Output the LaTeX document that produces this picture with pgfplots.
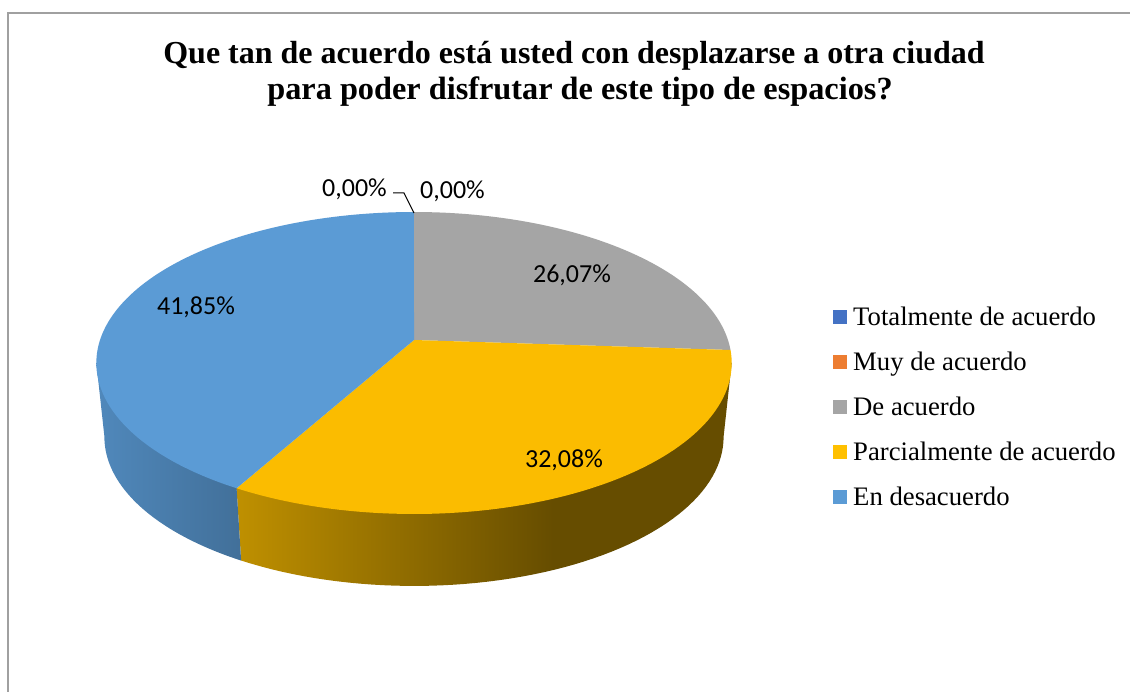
\documentclass[border=0pt]{standalone}
\usepackage{fontspec}
\setmainfont{Liberation Serif}
\newfontfamily\calibri{Carlito}
\usepackage{pgfplots}
\pgfplotsset{compat=1.18}
\definecolor{cTot}{HTML}{4472C4}
\definecolor{cMuy}{HTML}{ED7D31}
\definecolor{cDe}{HTML}{A5A5A5}
\definecolor{cPar}{HTML}{FFC000}
\definecolor{cParTop}{HTML}{FBBC00}
\definecolor{cEn}{HTML}{5B9BD5}
\definecolor{frameGray}{HTML}{A0A0A0}
% side walls, stops placed for the bbox of each wall
\pgfdeclarehorizontalshading{parside}{100bp}{color(0bp)=(cPar!75!black);color(25bp)=(cPar!75!black);color(57bp)=(cPar!40!black);color(100bp)=(cPar!40!black)}
\pgfdeclarehorizontalshading{enside}{100bp}{color(0bp)=(cEn!88!black);color(25bp)=(cEn!88!black);color(75bp)=(cEn!72!black);color(100bp)=(cEn!72!black)}
% percentages of the pie
\def\vDe{26.07}
\def\vPar{32.08}
\def\vEn{41.85}
\pgfmathsetmacro{\cA}{\vDe}
\pgfmathsetmacro{\cB}{\vDe+\vPar}
\pgfmathsetmacro{\cC}{\vDe+\vPar+\vEn}
\begin{document}
\begin{tikzpicture}[declare function={
  topx(\p)=414+314*sin(3.6*\p)/(1+.1523*cos(3.6*\p));
  topy(\p)=340-147.5*cos(3.6*\p)/(1+.1523*cos(3.6*\p));
  botx(\p)=414+306*sin(3.6*\p)/(1+.1523*cos(3.6*\p));
  boty(\p)=414.3-145.5*cos(3.6*\p)/(1+.1523*cos(3.6*\p));
}]
\begin{axis}[
  width=1130pt, height=692pt, scale only axis,
  xmin=0, xmax=1130, ymin=0, ymax=692, y dir=reverse,
  hide axis, clip=true,
  legend style={at={(axis cs:833,305)}, anchor=north west, draw=none, fill=none,
    font=\fontsize{26.7}{30}\selectfont, row sep=20.9pt, inner sep=0pt,
    /tikz/every odd column/.append style={column sep=4pt}},
  legend cell align=left,
  legend image code/.code={\path[#1,draw=none] (0pt,-7pt) rectangle (14pt,7pt);},
  every axis plot/.append style={forget plot},
]
% page and chart frame
\addplot[draw=none, fill=white] coordinates {(0,0) (1130,0) (1130,692) (0,692)} --cycle;
\addplot[frameGray, line width=1.3pt] coordinates {(8,692) (8,13) (1130,13)};

% side walls
\addplot[draw=none, shading=parside, domain=27.4:\cB, samples=60, variable=\p]
  ({botx(\p)},{boty(\p)}) -- (axis cs:{topx(\cB)},{topy(\cB)}) -- (axis cs:{topx(27.4)},{topy(27.4)}) -- cycle;
\addplot[draw=none, shading=enside, domain=\cB:72.6, samples=40, variable=\p]
  ({botx(\p)},{boty(\p)}) -- (axis cs:{topx(72.6)},{topy(72.6)}) -- (axis cs:{topx(\cB)},{topy(\cB)}) -- cycle;

% top faces
\addplot[draw=none, fill=cDe, domain=0:\cA, samples=60, variable=\p]
  ({topx(\p)},{topy(\p)}) -- (axis cs:414,340) -- cycle;
\addplot[draw=none, fill=cParTop, domain=\cA:\cB, samples=80, variable=\p]
  ({topx(\p)},{topy(\p)}) -- (axis cs:414,340) -- cycle;
\addplot[draw=none, fill=cEn, domain=\cB:\cC, samples=90, variable=\p]
  ({topx(\p)},{topy(\p)}) -- (axis cs:414,340) -- cycle;

% leader of the zero label
\addplot[black, line width=1pt] coordinates {(393,193) (404,193) (414,213)};

% data labels
\addplot[draw=none, mark=none, point meta=explicit symbolic,
  nodes near coords, every node near coord/.style={anchor=center, inner sep=0pt, text=black,
    font=\calibri\fontsize{26}{30}\selectfont}]
  coordinates {
    (354.5,189) [0,00\%]
    (452.5,191) [0,00\%]
    (572,275) [26,07\%]
    (564,460) [32,08\%]
    (196,307) [41,85\%]
  };

% title
\node[anchor=base, font=\bfseries\fontsize{32}{36}\selectfont, inner sep=0pt] at (axis cs:574,64)
  {Que tan de acuerdo está usted con desplazarse a otra ciudad};
\node[anchor=base, font=\bfseries\fontsize{32.3}{36}\selectfont, inner sep=0pt] at (axis cs:580,100)
  {para poder disfrutar de este tipo de espacios?};

% legend
\addlegendimage{fill=cTot}\addlegendentry{Totalmente de acuerdo}
\addlegendimage{fill=cMuy}\addlegendentry{Muy de acuerdo}
\addlegendimage{fill=cDe}\addlegendentry{De acuerdo}
\addlegendimage{fill=cPar}\addlegendentry{Parcialmente de acuerdo}
\addlegendimage{fill=cEn}\addlegendentry{En desacuerdo}
\end{axis}
\end{tikzpicture}
\end{document}
